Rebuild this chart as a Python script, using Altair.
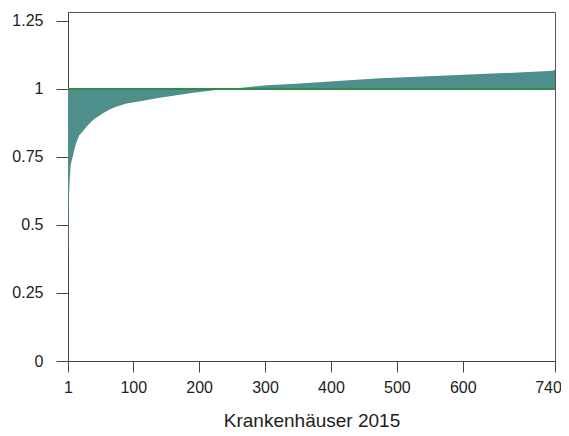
import altair as alt
import pandas as pd

ranks = [1, 2, 3, 5, 8, 11, 14, 18, 22, 29, 39, 54, 64, 74, 90, 115, 140, 166, 191, 226, 247, 303, 353, 404, 475, 531, 627, 700, 737, 740]
values = [0.32, 0.55, 0.64, 0.72, 0.75, 0.78, 0.805, 0.83, 0.84, 0.861, 0.886, 0.911, 0.925, 0.935, 0.947, 0.957, 0.968, 0.977, 0.986, 0.996, 1.0, 1.014, 1.02, 1.028, 1.039, 1.045, 1.055, 1.062, 1.067, 1.072]
x_ticks = [1, 100, 200, 300, 400, 500, 600, 740]
y_ticks = [0, 0.25, 0.5, 0.75, 1, 1.25]
reference = 1

df = pd.DataFrame({"rank": ranks, "value": values})

FONT = "Liberation Sans"
TXT = "#222222"

x_enc = alt.X("rank:Q", scale=alt.Scale(domain=[1, 740], nice=False, zero=False),
              axis=alt.Axis(values=x_ticks, title="Krankenhäuser 2015", grid=False,
                            tickSize=11, labelPadding=7, titlePadding=16,
                            labelFontSize=16, titleFontSize=19, titleFontWeight="normal",
                            labelFont=FONT, titleFont=FONT, labelColor=TXT, titleColor=TXT,
                            domainColor="#444444", tickColor="#444444", labelFlush=False,
                            labelOffset={"condition": {"test": "datum.value == 740", "value": -7}, "value": 0}))
y_enc = alt.Y("value:Q", scale=alt.Scale(domain=[0, 1.283], nice=False),
              axis=alt.Axis(values=y_ticks, title=None, grid=False, format=".3~f",
                            tickSize=12, labelPadding=13, labelFontSize=16,
                            labelFont=FONT, labelColor=TXT,
                            domainColor="#444444", tickColor="#444444"))

area = alt.Chart(df).mark_area(color="#4f8f8b", opacity=1, interpolate="linear").encode(
    x=x_enc, y=y_enc, y2=alt.datum(reference)
)
rule = alt.Chart(df).mark_rule(color="#2f8a4c", strokeWidth=2).encode(
    y=alt.datum(reference)
)

chart = alt.layer(area, rule).properties(
    width=487, height=349,
    autosize=alt.AutoSizeParams(type="none"),
    padding={"left": 60, "top": 4, "right": 6, "bottom": 70},
).configure_view(stroke="#555555", strokeWidth=1)

chart.save("out.html", embed_options={"renderer": "svg", "actions": False})
